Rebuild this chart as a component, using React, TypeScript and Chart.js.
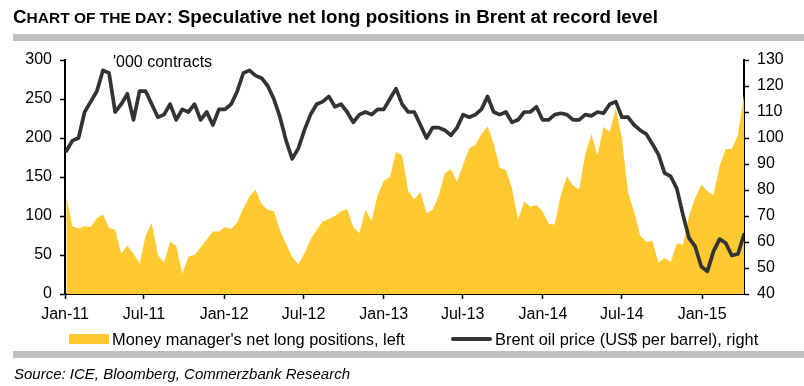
import React, { useEffect, useRef } from "react";
import { Chart, registerables } from "chart.js";

Chart.register(...registerables);

// ---- data ----
const firstObservation = "2011-01-04"; // fortnightly observations
const stepDays = 14;
const axisStart = "2011-01-01";
const axisEndDays = 1557;

const tickDates = [
  "2011-01-01", "2011-07-01", "2012-01-01", "2012-07-01", "2013-01-01",
  "2013-07-01", "2014-01-01", "2014-07-01", "2015-01-01",
];
const tickLabels = [
  "Jan-11", "Jul-11", "Jan-12", "Jul-12", "Jan-13",
  "Jul-13", "Jan-14", "Jul-14", "Jan-15",
];

// Money manager's net long positions ('000 contracts), left axis
const netLong = [
  125, 87, 84, 87, 86, 97, 102, 85, 82, 52,
  62, 52, 39, 75, 91, 50, 40, 67, 62, 26,
  48, 50, 60, 70, 80, 80, 86, 83, 92, 110,
  125, 134, 115, 108, 106, 82, 64, 47, 38, 52,
  70, 82, 93, 96, 100, 106, 109, 86, 78, 108,
  94, 127, 145, 150, 182, 178, 132, 121, 131, 104,
  108, 126, 155, 160, 144, 166, 187, 191, 205, 215,
  193, 162, 159, 136, 95, 119, 112, 114, 106, 90,
  89, 127, 151, 139, 134, 179, 205, 178, 214, 208,
  238, 200, 130, 106, 75, 67, 68, 40, 46, 41,
  65, 63, 100, 123, 140, 132, 127, 164, 186, 186,
  204, 255,
];

// Brent oil price (US$ per barrel), right axis
const brent = [
  95, 99, 100, 110, 114, 118, 126, 125, 110, 113,
  117, 107, 118, 118, 113, 108, 109, 113, 107, 111,
  110, 113, 107, 110, 105, 111, 111, 113, 118, 125,
  126, 124, 123, 120, 115, 108, 99, 92, 96, 103,
  109, 113, 114, 116, 112, 113, 110, 106, 109, 110,
  109, 111, 111, 115, 119, 113, 110, 110, 105, 100,
  104, 104, 103, 101, 104, 109, 108, 109, 111, 116,
  110, 109, 110, 106, 107, 110, 110, 112, 107, 107,
  109, 109.5, 109, 107, 107, 109, 108.5, 110, 109.5, 113,
  114, 108, 108, 105, 103, 101.5, 97.7, 93.6, 86.5, 85.2,
  80.5, 70.5, 61.5, 58.3, 50.6, 48.7, 56.4, 61.1, 59.6, 54.8,
  55.4, 62.8,
];

const leftTicks = { min: 0, max: 300, step: 50 };
const rightTicks = { min: 40, max: 130, step: 10 };

const DAY = 86400000;
const dayOf = (iso: string) =>
  Math.round((Date.parse(iso) - Date.parse(axisStart)) / DAY);
const firstDay = dayOf(firstObservation);
const tickDays = tickDates.map(dayOf);

const FONT = "'Liberation Sans', Arial, Helvetica, sans-serif";
const YELLOW = "#FFC931";
const DARK = "#333333";

export default function App() {
  const ref = useRef<HTMLCanvasElement | null>(null);

  useEffect(() => {
    if (!ref.current) return;
    Chart.defaults.font.family = FONT;
    const areaData = netLong.map((v, i) => ({ x: firstDay + i * stepDays, y: v }));
    const lineData = brent.map((v, i) => ({ x: firstDay + i * stepDays, y: v }));
    const tickStyle = {
      drawOnChartArea: false,
      drawTicks: true,
      tickLength: 5,
      tickColor: "#000",
      tickWidth: 1.5,
    };
    const chart = new Chart(ref.current, {
      type: "line",
      data: {
        datasets: [
          {
            label: "Brent oil price (US$ per barrel), right",
            data: lineData,
            yAxisID: "y1",
            borderColor: DARK,
            borderWidth: 3.7,
            pointRadius: 0,
            fill: false,
            tension: 0,
            borderJoinStyle: "round",
            borderCapStyle: "round",
            order: 0,
          },
          {
            label: "Money manager's net long positions, left",
            data: areaData,
            yAxisID: "y",
            borderWidth: 0,
            borderColor: YELLOW,
            backgroundColor: YELLOW,
            pointRadius: 0,
            fill: "origin",
            tension: 0,
            order: 1,
          },
        ],
      },
      options: {
        responsive: false,
        animation: false,
        events: [],
        layout: { padding: { top: 60, left: 0, right: 0, bottom: 52 } },
        plugins: { legend: { display: false }, tooltip: { enabled: false } },
        scales: {
          x: {
            type: "linear",
            min: 0,
            max: axisEndDays,
            afterBuildTicks: (axis: any) => {
              axis.ticks = tickDays.map((v) => ({ value: v }));
            },
            afterFit: (axis: any) => {
              axis.height = 40;
            },
            ticks: {
              autoSkip: false,
              maxRotation: 0,
              padding: 6,
              color: "#000",
              font: { size: 16 },
              callback: (value: any) => {
                const idx = tickDays.indexOf(Number(value));
                return idx >= 0 ? tickLabels[idx] : "";
              },
            },
            grid: tickStyle,
            border: { display: true, color: "#000", width: 2 },
          },
          y: {
            position: "left",
            min: leftTicks.min,
            max: leftTicks.max,
            afterFit: (axis: any) => {
              axis.width = 65;
            },
            ticks: { stepSize: leftTicks.step, padding: 8, color: "#000", font: { size: 16 } },
            grid: tickStyle,
            border: { display: true, color: "#000", width: 2 },
          },
          y1: {
            position: "right",
            min: rightTicks.min,
            max: rightTicks.max,
            afterFit: (axis: any) => {
              axis.width = 60;
            },
            ticks: { stepSize: rightTicks.step, padding: 8, color: "#000", font: { size: 16 } },
            grid: tickStyle,
            border: { display: true, color: "#000", width: 2 },
          },
        },
      },
    });
    return () => chart.destroy();
  }, []);

  const abs = (s: React.CSSProperties): React.CSSProperties => ({ position: "absolute", ...s });

  return (
    <div
      style={{
        position: "absolute",
        left: 0,
        top: 0,
        width: 804,
        height: 386,
        background: "#fff",
        overflow: "hidden",
        fontFamily: FONT,
        color: "#000",
      }}
    >
      <canvas ref={ref} width={804} height={386} style={abs({ left: 0, top: 0, width: 804, height: 386 })} />
      <div style={abs({ left: 13, top: 7, fontWeight: "bold", fontSize: 18.8, lineHeight: "19px", whiteSpace: "nowrap" })}>
        <span>C</span>
        <span style={{ fontSize: 15.5 }}>HART OF THE DAY</span>
        <span>: Speculative net long positions in Brent at record level</span>
      </div>
      <div style={abs({ left: 13, top: 34, width: 791, height: 7, background: "#C0C0C0" })} />
      <div style={abs({ left: 113, top: 52, fontSize: 16, lineHeight: "20px", whiteSpace: "nowrap" })}>
        '000 contracts
      </div>
      <div style={abs({ left: 69, top: 334, width: 40, height: 10, background: YELLOW })} />
      <div style={abs({ left: 112, top: 329, fontSize: 16.4, lineHeight: "20px", whiteSpace: "nowrap" })}>
        Money manager's net long positions, left
      </div>
      <div style={abs({ left: 451, top: 337, width: 41, height: 3.5, background: DARK, borderRadius: 2 })} />
      <div style={abs({ left: 495, top: 329, fontSize: 16.4, lineHeight: "20px", whiteSpace: "nowrap" })}>
        Brent oil price (US$ per barrel), right
      </div>
      <div style={abs({ left: 13, top: 351, width: 791, height: 7, background: "#C0C0C0" })} />
      <div style={abs({ left: 14, top: 364, fontSize: 15, fontStyle: "italic", lineHeight: "20px", whiteSpace: "nowrap" })}>
        Source: ICE, Bloomberg, Commerzbank Research
      </div>
    </div>
  );
}
